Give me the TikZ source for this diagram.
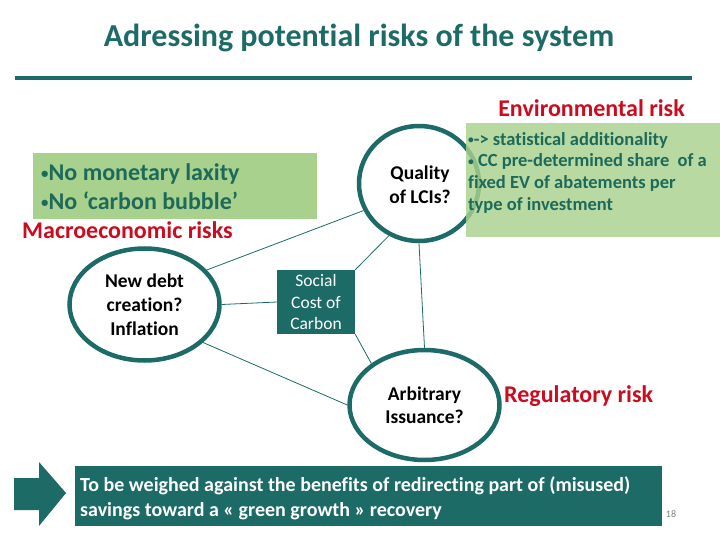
\documentclass[tikz,border=0pt]{standalone}
\usepackage{fontspec}
\usepackage{graphicx}
\setmainfont{Carlito}[Ligatures={NoCommon}]
\usetikzlibrary{shapes.geometric}
\definecolor{teal1}{HTML}{1C6B66}
\definecolor{lgreen}{HTML}{A9D18E}
\definecolor{rred}{HTML}{CC0C1E}
\definecolor{gtext}{HTML}{1D6A5A}
\newcommand\smbul{\raisebox{0.08em}{\scalebox{0.62}{•}}}
\tikzset{
  riskcirc/.style={ellipse, draw=teal1, line width=4.5pt, fill=white, inner sep=0pt, align=center, text=black},
  conn/.style={draw=teal1, line width=0.8pt},
  redlabel/.style={text=rred, font=\fontsize{24}{28}\selectfont\bfseries, inner sep=0pt},
  gbox/.style={fill=lgreen, draw=none},
}
\begin{document}
\begin{tikzpicture}[x=1pt,y=-1pt]
\useasboundingbox (0,0) rectangle (720,540);
% title
\node[text=teal1, font=\fontsize{32}{36}\selectfont\bfseries, inner sep=0pt] (title) at (359,38) {Adressing potential risks of the system};
\draw[teal1, line width=4pt] (15,78) coordinate (l1) -- (692,78) coordinate (l2);
\node[redlabel, anchor=east] (env) at (685,108) {Environmental risk};

% circles
\node[riskcirc, minimum width=120pt, minimum height=115pt] (qual) at (419,183.5) {};
\node[text=black, align=center, inner sep=0pt, font=\fontsize{19.5}{24}\selectfont\bfseries] (qualtxt) at (420,185) {Quality\\of LCIs?};
\node[riskcirc, minimum width=150pt, minimum height=112pt, font=\fontsize{19.5}{24}\selectfont\bfseries] (debt) at (144.5,304.5) {New debt\\creation?\\Inflation};
\node[riskcirc, minimum width=150pt, minimum height=110pt, font=\fontsize{19.5}{23}\selectfont\bfseries] (arb) at (424.5,405) {Arbitrary\\Issuance?};

% right green box (semi-transparent, over the circle)
\path[gbox, fill opacity=0.82] (466,123) rectangle (720,237);
\node[anchor=north west, text=gtext, font=\fontsize{18.5}{21.7}\selectfont\bfseries, align=left, inner sep=0pt] (envtxt) at (468,132) {\smbul-> statistical additionality\\\smbul{} CC pre-determined share~ of a\\fixed EV of abatements per\\type of investment};

% left green box
\path[gbox] (33,153) rectangle (317,219);
\node[anchor=west, text=gtext, font=\fontsize{24}{29}\selectfont\bfseries, align=left, inner sep=0pt] (mactxt) at (41,186.5) {\smbul{}No monetary laxity\\\smbul{}No ‘carbon bubble’};
\node[redlabel, anchor=west] (macro) at (22,230) {Macroeconomic risks};

% social cost of carbon
\node[fill=teal1, text=white, minimum width=78pt, minimum height=64pt, inner sep=0pt, align=center, font=\fontsize{17.5}{21.5}\selectfont] (scc) at (316,302) {Social\\Cost of\\Carbon};

\node[redlabel, anchor=west] (reg) at (504,396) {Regulatory risk};

% connectors
\draw[conn] (debt.29) -- (qual.206);
\draw[conn] (debt.east) -- (scc.west);
\draw[conn] (scc.north east) -- (qual.240);
\draw[conn] (qual.270) -- (arb.90);
\draw[conn] (scc.south east) -- (arb.142);
\draw[conn] (debt.-33) -- (arb.180);

% bottom arrow
\fill[teal1] (14,478) -- (39,478) -- (39,462) -- (66,493) -- (39,526) -- (39,510) -- (14,510) -- cycle;
\node[fill=teal1, text=white, minimum width=587pt, minimum height=60pt, inner sep=0pt, anchor=north west] (bottom) at (75,466) {};
\node[anchor=west, text=white, font=\fontsize{20}{24.5}\selectfont\bfseries, align=left, inner sep=0pt] (btxt) at (80,498.5) {To be weighed against the benefits of redirecting part of (misused)\\savings toward a « green growth » recovery};
\node[text=gray, font=\fontsize{10}{12}\selectfont, inner sep=0pt] (page) at (671,514) {18};
\end{tikzpicture}
\end{document}
